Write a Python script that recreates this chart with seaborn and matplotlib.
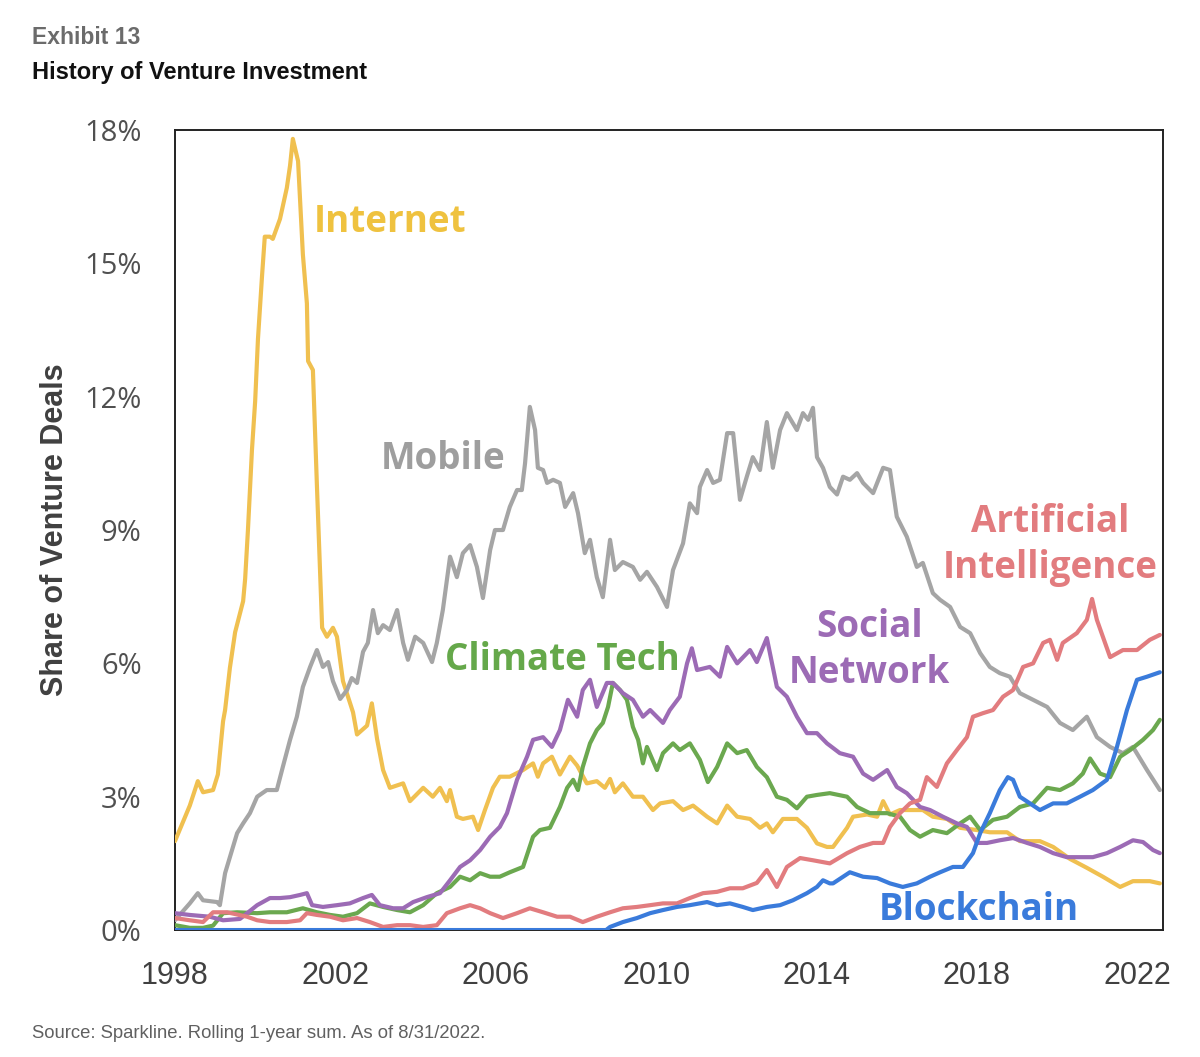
import pandas as pd
import numpy as np
import matplotlib
matplotlib.use('Agg')
import matplotlib.pyplot as plt
import seaborn as sns

# share of venture deals (%); x = decimal year
internet_x = [1998.00, 1998.37, 1998.57, 1998.70, 1998.95, 1999.07, 1999.20, 1999.25, 1999.37, 1999.50,
              1999.70, 1999.75, 1999.82, 1999.92, 2000.00, 2000.07, 2000.17, 2000.24, 2000.37, 2000.44,
              2000.62, 2000.79, 2000.87, 2000.94, 2001.07, 2001.19, 2001.29, 2001.32, 2001.44, 2001.54,
              2001.67, 2001.79, 2001.94, 2002.04, 2002.19, 2002.44, 2002.54, 2002.79, 2002.91, 2003.04,
              2003.19, 2003.36, 2003.69, 2003.86, 2004.19, 2004.43, 2004.61, 2004.78, 2004.86, 2005.03,
              2005.18, 2005.43, 2005.56, 2005.73, 2005.93, 2006.10, 2006.35, 2006.68, 2006.93, 2007.05,
              2007.18, 2007.40, 2007.60, 2007.85, 2008.03, 2008.27, 2008.52, 2008.72, 2008.85, 2008.97,
              2009.17, 2009.42, 2009.67, 2009.92, 2010.10, 2010.42, 2010.67, 2010.92, 2011.27, 2011.52,
              2011.77, 2012.02, 2012.34, 2012.59, 2012.76, 2012.91, 2013.16, 2013.51, 2013.76, 2014.01,
              2014.26, 2014.41, 2014.76, 2014.91, 2015.26, 2015.51, 2015.66, 2015.83, 2016.08, 2016.33,
              2016.65, 2016.90, 2017.25, 2017.58, 2018.00, 2018.32, 2018.75, 2019.07, 2019.57, 2019.90,
              2020.32, 2020.74, 2021.14, 2021.57, 2021.89, 2022.31, 2022.56]
internet_y = [2.0, 2.8, 3.35, 3.1, 3.15, 3.5, 4.7, 4.95, 5.9, 6.7,
              7.4, 7.9, 9.0, 10.8, 11.9, 13.3, 14.7, 15.6, 15.6, 15.55,
              16.0, 16.7, 17.2, 17.8, 17.3, 15.2, 14.1, 12.8, 12.6, 10.0,
              6.8, 6.6, 6.8, 6.6, 5.6, 4.9, 4.4, 4.6, 5.1, 4.3,
              3.6, 3.2, 3.3, 2.9, 3.2, 3.0, 3.2, 2.9, 3.15, 2.55,
              2.5, 2.55, 2.25, 2.7, 3.2, 3.45, 3.45, 3.6, 3.75, 3.45,
              3.75, 3.9, 3.5, 3.9, 3.7, 3.3, 3.35, 3.2, 3.4, 3.1,
              3.3, 3.0, 3.0, 2.7, 2.85, 2.9, 2.7, 2.8, 2.55, 2.4,
              2.8, 2.55, 2.5, 2.3, 2.4, 2.2, 2.5, 2.5, 2.3, 1.95,
              1.87, 1.87, 2.3, 2.55, 2.6, 2.55, 2.9, 2.6, 2.7, 2.7,
              2.7, 2.55, 2.5, 2.3, 2.25, 2.2, 2.2, 2.0, 2.0, 1.87,
              1.6, 1.4, 1.2, 0.97, 1.1, 1.1, 1.05]

mobile_x = [1998.00, 1998.37, 1998.57, 1998.70, 1999.05, 1999.12, 1999.25, 1999.37, 1999.55, 1999.70,
            1999.87, 2000.05, 2000.29, 2000.54, 2000.69, 2000.87, 2001.04, 2001.19, 2001.37, 2001.54,
            2001.69, 2001.82, 2001.94, 2002.12, 2002.29, 2002.41, 2002.54, 2002.69, 2002.81, 2002.94,
            2003.06, 2003.19, 2003.36, 2003.54, 2003.69, 2003.81, 2003.99, 2004.19, 2004.41, 2004.53,
            2004.68, 2004.86, 2005.03, 2005.18, 2005.36, 2005.53, 2005.68, 2005.86, 2005.98, 2006.18,
            2006.35, 2006.53, 2006.65, 2006.73, 2006.85, 2006.98, 2007.05, 2007.18, 2007.28, 2007.43,
            2007.60, 2007.73, 2007.93, 2008.05, 2008.22, 2008.35, 2008.52, 2008.67, 2008.85, 2008.97,
            2009.17, 2009.42, 2009.60, 2009.77, 2010.02, 2010.27, 2010.42, 2010.67, 2010.84, 2011.02,
            2011.09, 2011.27, 2011.42, 2011.59, 2011.77, 2011.92, 2012.09, 2012.26, 2012.41, 2012.59,
            2012.76, 2012.91, 2013.09, 2013.26, 2013.51, 2013.66, 2013.79, 2013.91, 2014.01, 2014.16,
            2014.33, 2014.51, 2014.66, 2014.83, 2015.01, 2015.16, 2015.41, 2015.66, 2015.83, 2016.00,
            2016.25, 2016.50, 2016.65, 2016.90, 2017.08, 2017.33, 2017.58, 2017.83, 2018.08, 2018.32,
            2018.57, 2018.82, 2019.07, 2019.40, 2019.75, 2020.07, 2020.39, 2020.74, 2020.99, 2021.32,
            2021.64, 2021.89, 2022.24, 2022.56]
mobile_y = [0.22, 0.6, 0.83, 0.67, 0.63, 0.56, 1.28, 1.64, 2.18, 2.4,
            2.63, 3.0, 3.15, 3.15, 3.67, 4.28, 4.8, 5.47, 5.92, 6.3,
            5.92, 6.03, 5.6, 5.2, 5.4, 5.67, 5.56, 6.26, 6.46, 7.2,
            6.68, 6.86, 6.75, 7.2, 6.46, 6.08, 6.6, 6.46, 6.03, 6.46,
            7.2, 8.4, 7.94, 8.48, 8.66, 8.17, 7.47, 8.55, 9.0, 9.0,
            9.52, 9.9, 9.9, 10.5, 11.77, 11.25, 10.4, 10.35, 10.06, 10.13,
            10.06, 9.52, 9.83, 9.38, 8.48, 8.78, 7.94, 7.49, 8.78, 8.1,
            8.28, 8.17, 7.88, 8.06, 7.72, 7.27, 8.1, 8.7, 9.6, 9.38,
            9.97, 10.35, 10.06, 10.13, 11.18, 11.18, 9.68, 10.2, 10.64, 10.35,
            11.43, 10.4, 11.25, 11.63, 11.25, 11.63, 11.48, 11.75, 10.64, 10.4,
            9.97, 9.8, 10.2, 10.13, 10.28, 10.06, 9.83, 10.4, 10.35, 9.3,
            8.85, 8.17, 8.26, 7.58, 7.43, 7.27, 6.82, 6.68, 6.23, 5.92,
            5.78, 5.7, 5.33, 5.18, 5.02, 4.66, 4.5, 4.8, 4.34, 4.12,
            3.98, 4.12, 3.6, 3.15]

climate_x = [1998.00, 1998.37, 1998.70, 1998.95, 1999.20, 1999.55, 2000.05, 2000.37, 2000.79, 2001.19,
             2001.54, 2001.87, 2002.19, 2002.54, 2002.86, 2003.19, 2003.54, 2003.86, 2004.19, 2004.53,
             2004.86, 2005.11, 2005.36, 2005.61, 2005.86, 2006.10, 2006.35, 2006.68, 2006.93, 2007.10,
             2007.35, 2007.60, 2007.78, 2007.93, 2008.05, 2008.17, 2008.35, 2008.52, 2008.67, 2008.80,
             2008.92, 2009.10, 2009.27, 2009.42, 2009.55, 2009.67, 2009.77, 2010.02, 2010.17, 2010.42,
             2010.59, 2010.84, 2011.09, 2011.29, 2011.52, 2011.77, 2012.02, 2012.26, 2012.51, 2012.76,
             2013.01, 2013.26, 2013.51, 2013.76, 2014.01, 2014.33, 2014.76, 2015.01, 2015.33, 2015.76,
             2016.08, 2016.33, 2016.58, 2016.90, 2017.25, 2017.58, 2017.83, 2018.08, 2018.40, 2018.75,
             2019.07, 2019.40, 2019.75, 2020.07, 2020.39, 2020.64, 2020.82, 2021.07, 2021.32, 2021.57,
             2021.82, 2022.14, 2022.39, 2022.56]
climate_y = [0.11, 0.05, 0.05, 0.1, 0.38, 0.4, 0.38, 0.4, 0.4, 0.49,
             0.4, 0.34, 0.3, 0.38, 0.6, 0.52, 0.45, 0.4, 0.56, 0.83,
             0.97, 1.2, 1.12, 1.28, 1.2, 1.2, 1.3, 1.42, 2.1, 2.25,
             2.3, 2.77, 3.2, 3.38, 3.15, 3.67, 4.2, 4.5, 4.66, 5.02,
             5.56, 5.4, 5.18, 4.57, 4.28, 3.75, 4.12, 3.6, 3.98, 4.2,
             4.05, 4.2, 3.83, 3.33, 3.67, 4.2, 3.98, 4.05, 3.67, 3.44,
             3.0, 2.93, 2.74, 3.0, 3.04, 3.08, 3.0, 2.77, 2.63, 2.63,
             2.55, 2.25, 2.1, 2.25, 2.18, 2.4, 2.55, 2.25, 2.48, 2.55,
             2.77, 2.85, 3.2, 3.15, 3.3, 3.52, 3.86, 3.52, 3.44, 3.9,
             4.05, 4.28, 4.5, 4.73]

social_x = [1998.00, 1998.37, 1998.87, 1999.20, 1999.62, 2000.05, 2000.37, 2000.62, 2000.87, 2001.12,
            2001.29, 2001.42, 2001.69, 2002.04, 2002.36, 2002.69, 2002.91, 2003.11, 2003.44, 2003.69,
            2003.94, 2004.28, 2004.61, 2004.86, 2005.11, 2005.36, 2005.61, 2005.86, 2006.10, 2006.28,
            2006.53, 2006.78, 2006.93, 2007.18, 2007.40, 2007.60, 2007.80, 2008.03, 2008.17, 2008.35,
            2008.52, 2008.77, 2008.92, 2009.17, 2009.42, 2009.67, 2009.85, 2010.17, 2010.34, 2010.59,
            2010.77, 2010.89, 2011.02, 2011.34, 2011.59, 2011.77, 2012.02, 2012.34, 2012.51, 2012.76,
            2013.01, 2013.26, 2013.51, 2013.76, 2014.01, 2014.26, 2014.58, 2014.91, 2015.16, 2015.41,
            2015.76, 2016.00, 2016.25, 2016.58, 2016.83, 2017.15, 2017.50, 2017.75, 2018.00, 2018.25,
            2018.57, 2018.90, 2019.25, 2019.57, 2019.90, 2020.24, 2020.57, 2020.89, 2021.24, 2021.57,
            2021.89, 2022.14, 2022.39, 2022.56]
social_y = [0.38, 0.34, 0.3, 0.22, 0.25, 0.56, 0.72, 0.72, 0.74, 0.79,
            0.83, 0.56, 0.52, 0.56, 0.6, 0.72, 0.79, 0.56, 0.49, 0.49,
            0.63, 0.74, 0.83, 1.12, 1.42, 1.57, 1.8, 2.1, 2.32, 2.63,
            3.38, 3.9, 4.28, 4.34, 4.12, 4.5, 5.18, 4.8, 5.4, 5.63,
            5.02, 5.56, 5.56, 5.33, 5.18, 4.8, 4.95, 4.66, 4.95, 5.25,
            6.0, 6.34, 5.85, 5.92, 5.7, 6.37, 6.0, 6.3, 6.03, 6.57,
            5.47, 5.25, 4.8, 4.43, 4.43, 4.2, 3.98, 3.9, 3.52, 3.38,
            3.6, 3.22, 3.08, 2.77, 2.7, 2.55, 2.4, 2.32, 1.96, 1.96,
            2.02, 2.07, 1.96, 1.87, 1.73, 1.64, 1.64, 1.64, 1.73, 1.87,
            2.02, 1.98, 1.8, 1.73]

ai_x = [1998.00, 1998.37, 1998.70, 1998.95, 1999.30, 1999.80, 2000.05, 2000.37, 2000.79, 2001.12,
        2001.29, 2001.54, 2001.87, 2002.19, 2002.54, 2002.86, 2003.19, 2003.54, 2003.86, 2004.19,
        2004.53, 2004.78, 2005.11, 2005.36, 2005.61, 2005.86, 2006.18, 2006.53, 2006.85, 2007.18,
        2007.53, 2007.85, 2008.17, 2008.52, 2008.85, 2009.17, 2009.52, 2009.85, 2010.17, 2010.52,
        2010.84, 2011.17, 2011.52, 2011.84, 2012.16, 2012.51, 2012.76, 2013.01, 2013.26, 2013.59,
        2013.91, 2014.33, 2014.76, 2015.08, 2015.41, 2015.66, 2015.83, 2016.08, 2016.33, 2016.58,
        2016.75, 2017.00, 2017.25, 2017.50, 2017.75, 2017.90, 2018.15, 2018.40, 2018.65, 2018.90,
        2019.15, 2019.40, 2019.65, 2019.82, 2020.00, 2020.14, 2020.49, 2020.74, 2020.87, 2020.99,
        2021.32, 2021.64, 2021.99, 2022.31, 2022.56]
ai_y = [0.27, 0.22, 0.18, 0.4, 0.4, 0.3, 0.22, 0.18, 0.18, 0.22,
        0.38, 0.34, 0.3, 0.22, 0.27, 0.18, 0.07, 0.11, 0.11, 0.07,
        0.11, 0.38, 0.49, 0.56, 0.49, 0.38, 0.27, 0.38, 0.49, 0.4,
        0.3, 0.3, 0.18, 0.3, 0.4, 0.49, 0.52, 0.56, 0.6, 0.6,
        0.72, 0.83, 0.86, 0.94, 0.94, 1.06, 1.35, 0.97, 1.42, 1.62,
        1.57, 1.5, 1.73, 1.87, 1.96, 1.96, 2.32, 2.63, 2.85, 2.93,
        3.44, 3.22, 3.75, 4.05, 4.34, 4.8, 4.88, 4.95, 5.25, 5.4,
        5.92, 6.0, 6.46, 6.53, 6.08, 6.46, 6.68, 6.98, 7.45, 6.98,
        6.14, 6.3, 6.3, 6.53, 6.64]

blockchain_x = [1998.00, 2008.75, 2008.85, 2009.17, 2009.52, 2009.85, 2010.17, 2010.52, 2010.84, 2011.27,
                2011.52, 2011.84, 2012.16, 2012.41, 2012.76, 2013.09, 2013.41, 2013.76, 2014.01, 2014.16,
                2014.33, 2014.41, 2014.83, 2015.16, 2015.51, 2015.83, 2016.15, 2016.50, 2016.83, 2017.08,
                2017.40, 2017.65, 2017.90, 2018.08, 2018.32, 2018.57, 2018.77, 2018.90, 2019.07, 2019.32,
                2019.57, 2019.90, 2020.24, 2020.57, 2020.89, 2021.24, 2021.49, 2021.74, 2021.99, 2022.24,
                2022.56]
blockchain_y = [0.0, 0.0, 0.07, 0.18, 0.27, 0.38, 0.45, 0.52, 0.56, 0.63,
                0.56, 0.6, 0.52, 0.45, 0.52, 0.56, 0.67, 0.83, 0.97, 1.12,
                1.05, 1.05, 1.3, 1.2, 1.17, 1.05, 0.97, 1.05, 1.2, 1.3,
                1.42, 1.42, 1.73, 2.18, 2.63, 3.15, 3.44, 3.38, 3.0, 2.85,
                2.7, 2.85, 2.85, 3.0, 3.15, 3.38, 4.12, 4.95, 5.63, 5.7,
                5.8]

series_names = ['Internet', 'Mobile', 'Climate Tech', 'Social Network', 'Artificial Intelligence', 'Blockchain']
colors = {'Internet': '#F0C050', 'Mobile': '#A5A5A5', 'Climate Tech': '#6BA84F',
          'Social Network': '#9C6BB5', 'Artificial Intelligence': '#E27C7F', 'Blockchain': '#3A7BDB'}

frames = []
for name, xs, ys in zip(series_names,
                        [internet_x, mobile_x, climate_x, social_x, ai_x, blockchain_x],
                        [internet_y, mobile_y, climate_y, social_y, ai_y, blockchain_y]):
    frames.append(pd.DataFrame({'year': xs, 'share': ys, 'series': name}))
df = pd.concat(frames, ignore_index=True)

sns.set_style('white')
plt.rcParams['font.family'] = ['Open Sans', 'DejaVu Sans']

fig = plt.figure(figsize=(12, 10.57), dpi=100)
ax = fig.add_axes([0.1458, 0.1201, 0.8234, 0.7569])

sns.lineplot(data=df, x='year', y='share', hue='series', hue_order=series_names,
             palette=colors, estimator=None, sort=False, linewidth=3.0, legend=False,
             ax=ax, zorder=3)

ax.set_xlim(1998, 2022.64)
ax.set_ylim(0, 18)
ax.set_xticks([1998, 2002, 2006, 2010, 2014, 2018, 2022])
ax.set_xticklabels(['1998', '2002', '2006', '2010', '2014', '2018', '2022'],
                   family=['Liberation Sans', 'DejaVu Sans'], fontsize=22, color='#404040')
ax.set_yticks([0, 3, 6, 9, 12, 15, 18])
ax.set_yticklabels(['0%', '3%', '6%', '9%', '12%', '15%', '18%'], fontsize=21, color='#505050')
ax.tick_params(axis='x', direction='out', length=8, width=1.3, color='#222222', pad=14)
ax.tick_params(axis='y', length=0, pad=24)
ax.set_xlabel('')
ax.set_ylabel('')
for sp in ax.spines.values():
    sp.set_visible(True)
    sp.set_color('#222222')
    sp.set_linewidth(1.4)

# series labels
lab = dict(fontsize=26.5, fontweight='bold', ha='center', va='center', linespacing=1.3)
ax.text(2003.36, 15.93, 'Internet', color='#EFC23F', **lab)
ax.text(2004.68, 10.6, 'Mobile', color='#9E9E9E', **lab)
ax.text(2007.65, 6.08, 'Climate Tech', color='#65A84A', **lab)
ax.text(2015.33, 6.3, 'Social\nNetwork', color='#9C6BB5', **lab)
ax.text(2019.82, 8.66, 'Artificial\nIntelligence', color='#E27C7F', **lab)
ax.text(2018.05, 0.45, 'Blockchain', color='#3A7BDB', **lab)

fig.text(55 / 1200, 1 - 530 / 1057, 'Share of Venture Deals', rotation=90, ha='center', va='center',
         family=['Liberation Sans', 'DejaVu Sans'], fontweight='bold', fontsize=22, color='#404040')

fig.text(32 / 1200, 1 - 37 / 1057, 'Exhibit 13', ha='left', va='center',
         family=['Liberation Sans', 'DejaVu Sans'], fontweight='bold', fontsize=16.5, color='#6b6b6b')
fig.text(32 / 1200, 1 - 73 / 1057, 'History of Venture Investment', ha='left', va='center',
         family=['Liberation Sans', 'DejaVu Sans'], fontweight='bold', fontsize=17, color='#111111')
fig.text(32 / 1200, 1 - 1033 / 1057, 'Source: Sparkline. Rolling 1-year sum. As of 8/31/2022.', ha='left', va='center',
         family=['Liberation Sans', 'DejaVu Sans'], fontsize=13.3, color='#606060')

fig.savefig('out.png', dpi=100)
